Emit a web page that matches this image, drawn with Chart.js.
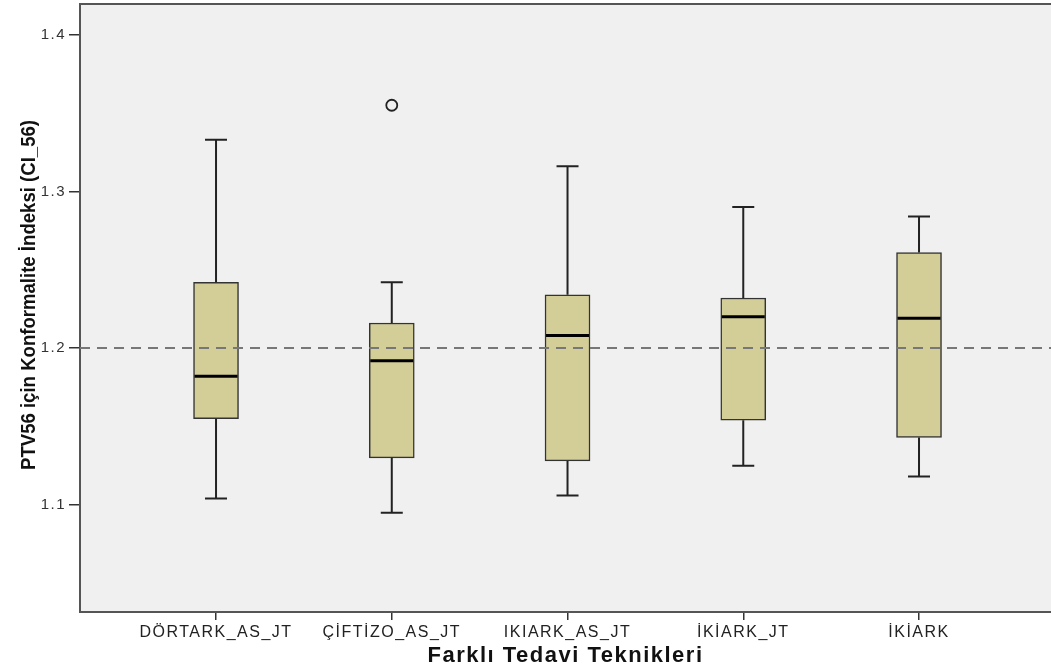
<!DOCTYPE html>
<html>
<head>
<meta charset="utf-8">
<title>PTV56 Konformalite İndeksi</title>
<script src="https://cdn.jsdelivr.net/npm/chart.js@4.4.1/dist/chart.umd.min.js"></script>
<style>
html, body { margin: 0; background: #fff; overflow: hidden; }
#wrap { width: 1051px; height: 669px; }
canvas { display: block; }
</style>
</head>
<body>
<div id="wrap"><canvas id="boxChart" width="1051" height="669"></canvas></div>
<script>
// values
var teknikler = ['DÖRTARK_AS_JT', 'ÇİFTİZO_AS_JT', 'IKIARK_AS_JT', 'İKİARK_JT', 'İKİARK'];
var altBiyik = [1.104, 1.095, 1.106, 1.125, 1.118];
var q1 = [1.155, 1.130, 1.128, 1.154, 1.143];
var medyan = [1.182, 1.192, 1.208, 1.220, 1.219];
var q3 = [1.242, 1.216, 1.234, 1.232, 1.261];
var ustBiyik = [1.333, 1.242, 1.316, 1.290, 1.284];
var aykiriX = [1];
var aykiriY = [1.355];
var yTicks = [1.1, 1.2, 1.3, 1.4];
var refDeger = 1.2;
var yBaslik = 'PTV56 için Konformalite İndeksi (CI_56)';

var FONT = "'Liberation Sans', Arial, sans-serif";

var boxExtras = {
    id: 'boxExtras',
    beforeUpdate: function(chart) {
        chart.ctx.letterSpacing = '1.5px';
    },
    beforeDraw: function(chart) {
        var a = chart.chartArea, ctx = chart.ctx;
        ctx.save();
        ctx.fillStyle = '#f0f0f0';
        ctx.fillRect(a.left, a.top, a.right - a.left, a.bottom - a.top);
        ctx.strokeStyle = '#555';
        ctx.lineWidth = 2;
        ctx.beginPath();
        ctx.moveTo(a.left, a.top);
        ctx.lineTo(a.right, a.top);
        ctx.stroke();
        ctx.restore();
    },
    afterDatasetsDraw: function(chart) {
        var ctx = chart.ctx, xs = chart.scales.x, ys = chart.scales.y;
        var bars = chart.getDatasetMeta(0).data;
        var a = chart.chartArea;
        ctx.save();
        for (let i = 0; i < teknikler.length; i++) {
            let x = xs.getPixelForValue(i);
            let w = bars[i].width;
            let cap = 11;
            ctx.strokeStyle = '#222';
            ctx.lineWidth = 2;
            ctx.beginPath();
            ctx.moveTo(x, ys.getPixelForValue(q3[i]));
            ctx.lineTo(x, ys.getPixelForValue(ustBiyik[i]));
            ctx.moveTo(x - cap, ys.getPixelForValue(ustBiyik[i]));
            ctx.lineTo(x + cap, ys.getPixelForValue(ustBiyik[i]));
            ctx.moveTo(x, ys.getPixelForValue(q1[i]));
            ctx.lineTo(x, ys.getPixelForValue(altBiyik[i]));
            ctx.moveTo(x - cap, ys.getPixelForValue(altBiyik[i]));
            ctx.lineTo(x + cap, ys.getPixelForValue(altBiyik[i]));
            ctx.stroke();
            // median
            ctx.strokeStyle = '#000';
            ctx.lineWidth = 3;
            ctx.beginPath();
            ctx.moveTo(x - w / 2 + 1, ys.getPixelForValue(medyan[i]));
            ctx.lineTo(x + w / 2 - 1, ys.getPixelForValue(medyan[i]));
            ctx.stroke();
        }
        // reference line
        let yr = ys.getPixelForValue(refDeger);
        ctx.strokeStyle = '#777';
        ctx.lineWidth = 2;
        ctx.setLineDash([10, 7]);
        ctx.beginPath();
        ctx.moveTo(a.left, yr);
        ctx.lineTo(a.right, yr);
        ctx.stroke();
        ctx.restore();
    },
    afterDraw: function(chart) {
        // condensed bold y title, like the SPSS narrow font
        var ctx = chart.ctx;
        ctx.save();
        ctx.letterSpacing = '0px';
        ctx.font = 'bold 21px ' + FONT;
        ctx.fillStyle = '#111';
        ctx.textAlign = 'center';
        ctx.textBaseline = 'middle';
        let w = ctx.measureText(yBaslik).width;
        ctx.translate(29, 295);
        ctx.rotate(-Math.PI / 2);
        ctx.scale(350 / w, 1);
        ctx.fillText(yBaslik, 0, 0);
        ctx.restore();
    }
};

var ctx = document.getElementById('boxChart').getContext('2d');
var boxChart = new Chart(ctx, {
    type: 'bar',
    data: {
        datasets: [{
            type: 'bar',
            data: teknikler.map(function(t, i) { return {x: i, y: [q1[i], q3[i]]}; }),
            backgroundColor: '#d3ce97',
            borderColor: '#333',
            borderWidth: 1.5,
            borderSkipped: false,
            barThickness: 45
        }, {
            type: 'scatter',
            data: aykiriX.map(function(x, i) { return {x: x, y: aykiriY[i]}; }),
            pointRadius: 5.5,
            pointBackgroundColor: 'rgba(0,0,0,0)',
            pointBorderColor: '#222',
            pointBorderWidth: 1.8
        }]
    },
    options: {
        responsive: false,
        animation: false,
        layout: { autoPadding: false, padding: { top: 4, left: 0, right: 0, bottom: 0 } },
        plugins: { legend: { display: false }, tooltip: { enabled: false } },
        scales: {
            x: {
                type: 'linear',
                offset: false,
                min: -0.774,
                max: 4.751,
                afterBuildTicks: function(s) { s.ticks = teknikler.map(function(t, i) { return {value: i}; }); },
                afterFit: function(s) { s.height = 57; s.paddingLeft = 0; s.paddingRight = 0; },
                ticks: {
                    autoSkip: false,
                    maxRotation: 0,
                    padding: 3,
                    color: '#222',
                    font: { family: FONT, size: 16 },
                    callback: function(v) { return teknikler[v]; }
                },
                grid: { offset: false, drawOnChartArea: false, tickLength: 8, color: '#333', lineWidth: 1.5 },
                border: { display: true, color: '#555', width: 2 },
                title: {
                    display: true,
                    text: 'Farklı Tedavi Teknikleri',
                    color: '#111',
                    font: { family: FONT, size: 22, weight: 'bold' },
                    padding: { top: 0, bottom: 0 }
                }
            },
            y: {
                min: 1.0316,
                max: 1.4196,
                afterBuildTicks: function(s) { s.ticks = yTicks.map(function(v) { return {value: v}; }); },
                afterFit: function(s) { s.width = 80; s.paddingTop = 0; s.paddingBottom = 0; },
                ticks: {
                    padding: 3,
                    color: '#333',
                    font: { family: FONT, size: 15 },
                    callback: function(v) { return v.toFixed(1); }
                },
                grid: { drawOnChartArea: false, tickLength: 11, color: '#333', lineWidth: 1.5 },
                border: { display: true, color: '#555', width: 2 }
            }
        }
    },
    plugins: [boxExtras]
});
</script>
</body>
</html>
